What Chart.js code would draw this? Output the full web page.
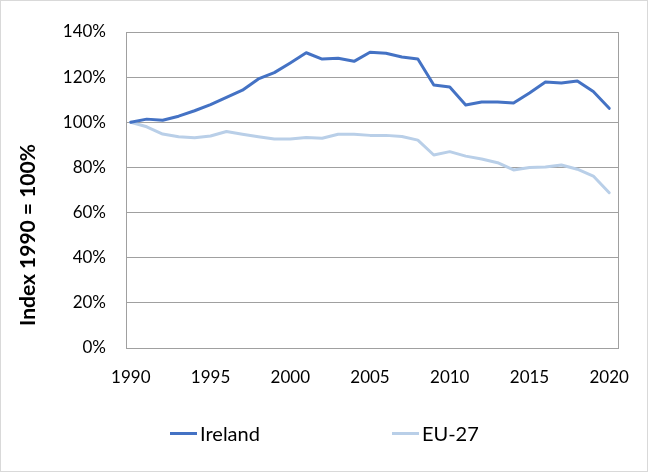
<!DOCTYPE html>
<html>
<head>
<meta charset="utf-8">
<script src="https://cdn.jsdelivr.net/npm/chart.js@4"></script>
<style>
  html, body { margin: 0; padding: 0; background: #fff; }
  #wrap { position: relative; width: 648px; height: 472px; }
  #frame { position: absolute; left: 0; top: 0; width: 648px; height: 472px; box-sizing: border-box; border: 1px solid #d9d9d9; pointer-events: none; }
  #legend { position: absolute; left: 170px; top: 421px; display: flex; gap: 132px; font-family: Lato, sans-serif; font-size: 20px; color: #000; }
  .item { display: flex; align-items: center; }
  .swatch { width: 27px; height: 3px; margin-right: 3px; }
</style>
</head>
<body>
<div id="wrap">
  <canvas id="chart" width="648" height="472"></canvas>
  <div id="legend"></div>
  <div id="frame"></div>
</div>
<script>
const years = [1990, 1991, 1992, 1993, 1994, 1995, 1996, 1997, 1998, 1999, 2000,
  2001, 2002, 2003, 2004, 2005, 2006, 2007, 2008, 2009, 2010,
  2011, 2012, 2013, 2014, 2015, 2016, 2017, 2018, 2019, 2020];

// index, 1990 = 100
const ireland = [100, 101.4, 100.9, 102.7, 105.1, 107.8, 111, 114.2, 119.2, 122, 126.3,
  130.8, 128, 128.4, 127, 131, 130.6, 128.9, 128, 116.5, 115.6,
  107.7, 109, 109, 108.5, 113, 117.8, 117.4, 118.3, 113.6, 106.2];

const eu27 = [100, 98, 94.8, 93.6, 93.1, 93.9, 95.9, 94.7, 93.6, 92.6, 92.6,
  93.3, 92.9, 94.7, 94.7, 94.2, 94.2, 93.7, 92.1, 85.5, 87,
  85, 83.7, 82.1, 78.9, 80, 80.2, 81.1, 79.2, 76.2, 68.8];

const yearTicks = [1990, 1995, 2000, 2005, 2010, 2015, 2020];
const pctTicks = [0, 20, 40, 60, 80, 100, 120, 140];
const yTitle = 'Index 1990 = 100%';

const gridColor = '#a0a0a0';

const boxPlugin = {
  id: 'box',
  beforeDatasetsDraw(chart) {
    const a = chart.chartArea;
    const ctx = chart.ctx;
    ctx.save();
    ctx.strokeStyle = gridColor;
    ctx.lineWidth = 1;
    ctx.strokeRect(Math.round(a.left) + 0.5, Math.round(a.top) + 0.5,
      Math.round(a.right - a.left), Math.round(a.bottom - a.top));
    ctx.restore();
  }
};

// axis title sits lower than the axis middle in the original, so draw it here
const yTitlePlugin = {
  id: 'yTitle',
  afterDraw(chart) {
    const ctx = chart.ctx;
    ctx.save();
    ctx.translate(28, 235);
    ctx.rotate(-Math.PI / 2);
    ctx.font = 'bold 21px Lato';
    ctx.fillStyle = '#000';
    ctx.textAlign = 'center';
    ctx.textBaseline = 'middle';
    ctx.fillText(yTitle, 0, 0);
    ctx.restore();
  }
};

const htmlLegend = {
  id: 'htmlLegend',
  afterUpdate(chart) {
    const box = document.getElementById('legend');
    box.innerHTML = '';
    chart.data.datasets.forEach(ds => {
      const item = document.createElement('div');
      item.className = 'item';
      const sw = document.createElement('span');
      sw.className = 'swatch';
      sw.style.background = ds.borderColor;
      const tx = document.createElement('span');
      tx.textContent = ds.label;
      item.appendChild(sw);
      item.appendChild(tx);
      box.appendChild(item);
    });
  }
};

new Chart(document.getElementById('chart').getContext('2d'), {
  type: 'line',
  data: {
    datasets: [
      {
        label: 'Ireland',
        data: years.map((y, i) => ({ x: y, y: ireland[i] })),
        borderColor: '#4472c4',
        borderWidth: 3,
        pointRadius: 0,
        tension: 0,
        borderCapStyle: 'round',
        borderJoinStyle: 'round'
      },
      {
        label: 'EU-27',
        data: years.map((y, i) => ({ x: y, y: eu27[i] })),
        borderColor: '#b9cfe8',
        borderWidth: 3,
        pointRadius: 0,
        tension: 0,
        borderCapStyle: 'round',
        borderJoinStyle: 'round'
      }
    ]
  },
  options: {
    responsive: false,
    animation: false,
    devicePixelRatio: 1,
    layout: { padding: { top: 32, right: 30, bottom: 0, left: 0 } },
    plugins: {
      legend: { display: false },
      tooltip: { enabled: false }
    },
    scales: {
      x: {
        type: 'linear',
        min: 1989.7,
        max: 2020.55,
        afterBuildTicks: axis => { axis.ticks = yearTicks.map(v => ({ value: v })); },
        afterFit: axis => { axis.height = 124; },
        grid: { display: false },
        border: { display: true, color: gridColor },
        ticks: {
          padding: 11,
          color: '#000',
          font: { family: 'Lato', size: 17 },
          callback: v => String(v)
        }
      },
      y: {
        min: 0,
        max: 140,
        afterBuildTicks: axis => { axis.ticks = pctTicks.map(v => ({ value: v })); },
        afterFit: axis => { axis.width = 126; },
        grid: { color: gridColor, drawTicks: false },
        border: { display: true, color: gridColor },
        ticks: {
          padding: 20,
          color: '#000',
          font: { family: 'Lato', size: 17 },
          callback: v => v + '%'
        }
      }
    }
  },
  plugins: [boxPlugin, yTitlePlugin, htmlLegend]
});
</script>
</body>
</html>
